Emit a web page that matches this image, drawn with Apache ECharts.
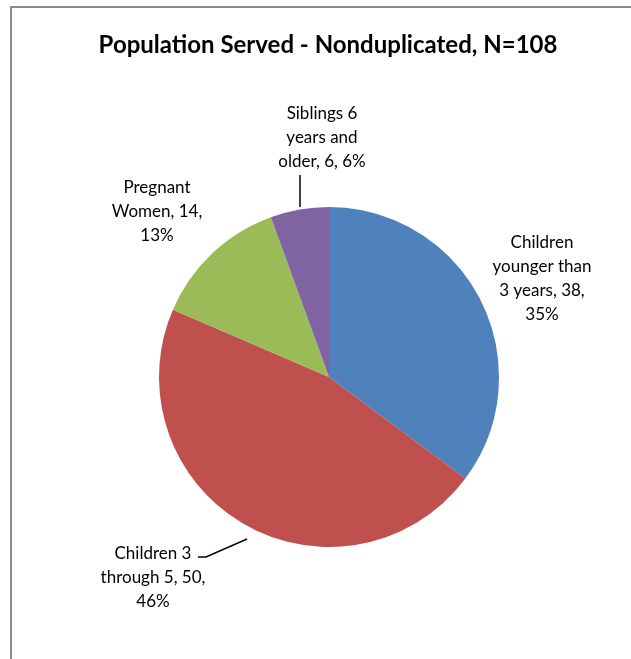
<!DOCTYPE html>
<html>
<head>
<meta charset="utf-8">
<script src="https://cdn.jsdelivr.net/npm/echarts@6/dist/echarts.min.js"></script>
<style>
  html, body { margin: 0; padding: 0; background: #fff; }
  #chart { width: 631px; height: 659px; }
</style>
</head>
<body>
<div id="chart"></div>
<script>
// Population groups served (nonduplicated count)
const categories = [
  'Children\nyounger than\n3 years',
  'Children 3\nthrough 5',
  'Pregnant\nWomen',
  'Siblings 6\nyears and\nolder'
];
const counts = [38, 50, 14, 6];
const colors = ['#4F81BD', '#C0504D', '#9BBB59', '#8064A2'];

// separator placed before the percentage in each label
const pctSeparators = ['\n', '\n', '\n', ' '];

// label anchor (centre of the text block) and leader line for each slice
const labelSpots = [
  { x: 542, y: 279, line: null },
  { x: 153, y: 578, line: [[247, 539], [206, 557], [198, 557]] },
  { x: 157, y: 212, line: null },
  { x: 322, y: 138, line: [[300, 207], [300, 175]] }
];

const chart = echarts.init(document.getElementById('chart'), null, { renderer: 'canvas' });

const FONT = 'Lato, "Open Sans", sans-serif';

chart.setOption({
  animation: false,
  backgroundColor: '#ffffff',
  title: {
    text: 'Population Served - Nonduplicated, N=108',
    left: 323,
    top: 28,
    textAlign: 'center',
    textStyle: { fontFamily: FONT, fontWeight: 'bold', fontSize: 24, color: '#000' }
  },
  graphic: [{
    type: 'rect',
    shape: { x: 11, y: 7, width: 700, height: 700 },
    style: { fill: 'none', stroke: '#8a8a8a', lineWidth: 2 },
    silent: true
  }],
  series: [{
    type: 'pie',
    center: [329, 377],
    radius: 170,
    startAngle: 90,
    clockwise: true,
    percentPrecision: 0,
    avoidLabelOverlap: false,
    itemStyle: { borderWidth: 0 },
    emphasis: { disabled: true },
    label: {
      show: true,
      position: 'outside',
      fontFamily: FONT,
      fontSize: 17,
      lineHeight: 24,
      color: '#000',
      align: 'center',
      formatter: p => p.name + ', ' + p.value + ',' + pctSeparators[p.dataIndex] + p.percent + '%'
    },
    labelLine: { show: true, lineStyle: { color: '#000', width: 1.5 } },
    labelLayout: params => {
      const s = labelSpots[params.dataIndex];
      const out = { x: s.x, y: s.y, align: 'center', verticalAlign: 'middle' };
      out.labelLinePoints = s.line ? s.line : [[0, 0], [0, 0]];
      return out;
    },
    data: categories.map((name, i) => ({
      name: name,
      value: counts[i],
      itemStyle: { color: colors[i] },
      labelLine: { show: !!labelSpots[i].line }
    }))
  }]
});
</script>
</body>
</html>
